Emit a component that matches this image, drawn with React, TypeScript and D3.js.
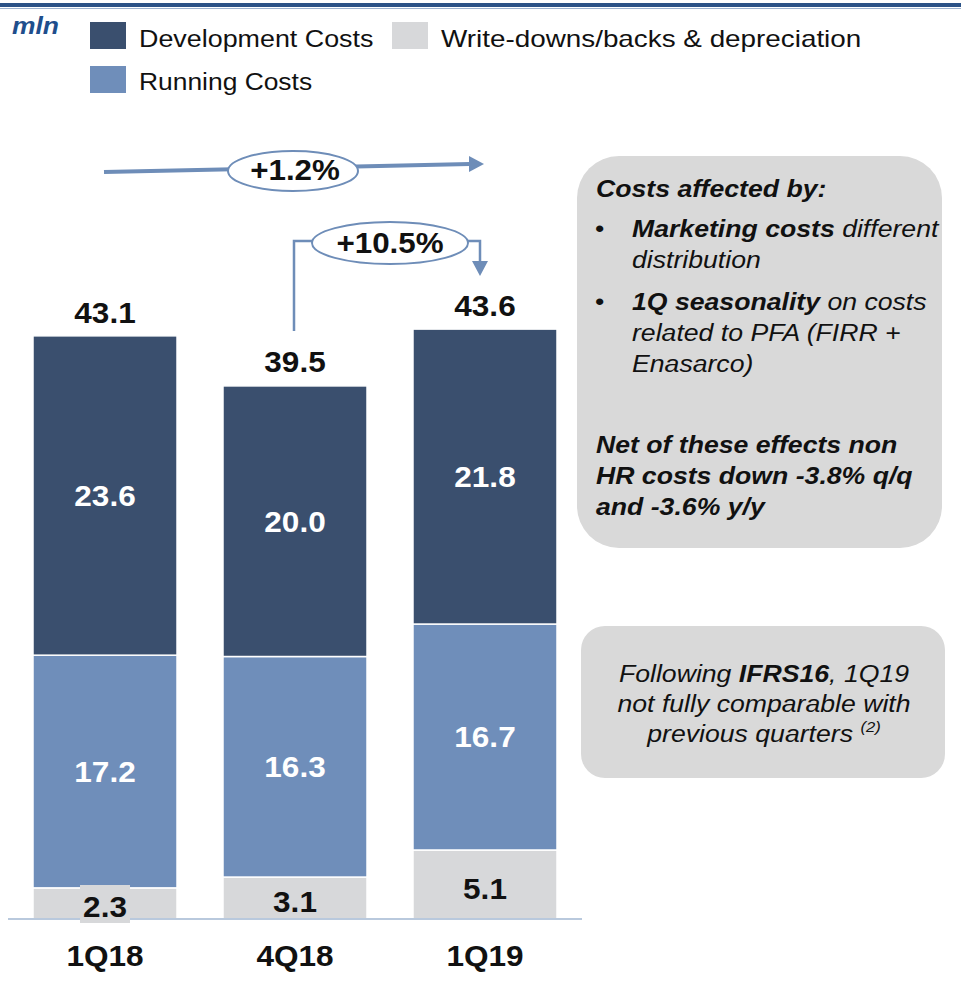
import React from "react";
import * as d3 from "d3";

const categories = ["1Q18", "4Q18", "1Q19"];
const writeDowns = [2.3, 3.1, 5.1];
const runningCosts = [17.2, 16.3, 16.7];
const developmentCosts = [23.6, 20.0, 21.8];
const totals = [43.1, 39.5, 43.6];
const seriesNames = ["Development Costs", "Write-downs/backs & depreciation", "Running Costs"];

const W = 961;
const H = 990;
const FONT = "'Liberation Sans', Arial, Helvetica, sans-serif";
const C_DEV = "#3A4F6E";
const C_RUN = "#6F8EBA";
const C_WD = "#D7D8DA";
const C_LINE = "#6E8DB8";

function T(props: any) {
  const { x, y, sx = 1.1, children, ...rest } = props;
  return (
    <text transform={`translate(${x},${y}) scale(${sx},1)`} x={0} y={0} {...rest}>
      {children}
    </text>
  );
}

export default function App() {
  const x = d3.scaleBand<string>().domain(categories).range([33, 557]).paddingInner(0.242).paddingOuter(0);
  const y = d3.scaleLinear().domain([0, 45]).range([919, 919 - 45 * 13.53]);

  const rows = categories.map((c, i) => ({ cat: c, wd: writeDowns[i], run: runningCosts[i], dev: developmentCosts[i] }));
  const stack = d3.stack<any>().keys(["wd", "run", "dev"]);
  const layers = stack(rows);
  const colors: Record<string, string> = { wd: C_WD, run: C_RUN, dev: C_DEV };
  const textColors: Record<string, string> = { wd: "#111", run: "#fff", dev: "#fff" };

  const bw = x.bandwidth();

  const arrowHead = (tipX: number, tipY: number, dir: "right" | "down") => {
    if (dir === "right") return `M${tipX},${tipY} L${tipX - 15},${tipY - 8} L${tipX - 15},${tipY + 8} Z`;
    return `M${tipX},${tipY} L${tipX - 8},${tipY - 15} L${tipX + 8},${tipY - 15} Z`;
  };

  const BX = 1.11;
  const NUM = 29.5;
  const NSX = 1.07;

  return (
    <svg width={W} height={H} style={{ position: "absolute", left: 0, top: 0, background: "#fff" }} fontFamily={FONT}>
      {/* top border */}
      <rect x={0} y={3} width={W} height={4} fill="#2B5287" />
      <line x1={0} x2={W} y1={8.5} y2={8.5} stroke="#9FB4D0" strokeWidth={1} />

      {/* unit */}
      <T x={12} y={34} sx={1.1} fontSize={24} fontWeight="bold" fontStyle="italic" fill="#1F4E8C">mln</T>

      {/* legend */}
      <rect x={90} y={22} width={36} height={27} fill={C_DEV} />
      <T x={139} y={47} sx={1.12} fontSize={24} fill="#111">{seriesNames[0]}</T>
      <rect x={392} y={22} width={36} height={27} fill={C_WD} />
      <T x={441} y={47} sx={1.16} fontSize={24} fill="#111">{seriesNames[1]}</T>
      <rect x={90} y={66} width={36} height={27} fill={C_RUN} />
      <T x={139} y={90} sx={1.1} fontSize={24} fill="#111">{seriesNames[2]}</T>

      {/* bars */}
      {layers.map((layer) => (
        <g key={layer.key}>
          {layer.map((d: any, i: number) => (
            <rect
              key={i}
              x={x(categories[i])}
              y={y(d[1])}
              width={bw}
              height={y(d[0]) - y(d[1])}
              fill={colors[layer.key]}
              stroke="#fff"
              strokeWidth={1.5}
            />
          ))}
        </g>
      ))}

      {/* axis line */}
      <line x1={8} x2={582} y1={919} y2={919} stroke="#B9C9DD" strokeWidth={2} />

      {/* gray label background for small first value */}
      <rect x={(x(categories[0]) as number) + bw / 2 - 25} y={885} width={50} height={38} fill={C_WD} />

      {/* segment labels */}
      {layers.map((layer) => (
        <g key={"l" + layer.key}>
          {layer.map((d: any, i: number) => {
            const cx = (x(categories[i]) as number) + bw / 2;
            let cy = (y(d[0]) + y(d[1])) / 2;
            if (layer.key === "wd") cy = Math.min(cy + 4, 907);
            return (
              <T key={i} x={cx} y={cy} sx={NSX} dy="0.35em" textAnchor="middle" fontSize={NUM} fontWeight="bold" fill={textColors[layer.key]}>
                {d.data[layer.key].toFixed(1)}
              </T>
            );
          })}
        </g>
      ))}

      {/* totals */}
      {totals.map((t, i) => (
        <T key={i} x={(x(categories[i]) as number) + bw / 2} y={y(t) - 13} sx={NSX} textAnchor="middle" fontSize={NUM} fontWeight="bold" fill="#111">
          {t.toFixed(1)}
        </T>
      ))}

      {/* categories */}
      {categories.map((c) => (
        <T key={c} x={(x(c) as number) + bw / 2} y={966} sx={NSX} textAnchor="middle" fontSize={NUM} fontWeight="bold" fill="#111">
          {c}
        </T>
      ))}

      {/* +1.2% arrow */}
      <line x1={104} y1={172} x2={470} y2={164} stroke={C_LINE} strokeWidth={4} />
      <path d={arrowHead(484, 164, "right")} fill={C_LINE} />
      <ellipse cx={293} cy={171} rx={65} ry={20} fill="#fff" stroke={C_LINE} strokeWidth={2} />
      <T x={295} y={170} sx={1.08} dy="0.36em" textAnchor="middle" fontSize={29} fontWeight="bold" fill="#111">+1.2%</T>

      {/* +10.5% bracket arrow */}
      <polyline points={`294,331 294,241 480,241 480,262`} fill="none" stroke={C_LINE} strokeWidth={2.5} />
      <path d={arrowHead(480, 276, "down")} fill={C_LINE} />
      <ellipse cx={390} cy={243} rx={78} ry={21} fill="#fff" stroke={C_LINE} strokeWidth={2} />
      <T x={390} y={243} sx={1.08} dy="0.36em" textAnchor="middle" fontSize={29} fontWeight="bold" fill="#111">+10.5%</T>

      {/* text box 1 */}
      <rect x={577} y={156} width={365} height={392} rx={42} ry={42} fill="#D9D9D9" />
      <g fontSize={24} fill="#111" fontStyle="italic">
        <T x={596} y={197} sx={BX} fontWeight="bold">Costs affected by:</T>
        <T x={595} y={237} sx={BX} fontStyle="normal">•</T>
        <T x={632} y={237} sx={BX}><tspan fontWeight="bold">Marketing costs</tspan> different</T>
        <T x={632} y={268} sx={BX}>distribution</T>
        <T x={595} y={310} sx={BX} fontStyle="normal">•</T>
        <T x={632} y={310} sx={BX}><tspan fontWeight="bold">1Q seasonality</tspan> on costs</T>
        <T x={632} y={341} sx={BX}>related to PFA (FIRR +</T>
        <T x={632} y={372} sx={BX}>Enasarco)</T>
        <T x={596} y={453} sx={BX} fontWeight="bold">Net of these effects non</T>
        <T x={596} y={484} sx={BX} fontWeight="bold">HR costs down -3.8% q/q</T>
        <T x={596} y={515} sx={BX} fontWeight="bold">and -3.6% y/y</T>
      </g>

      {/* text box 2 */}
      <rect x={581} y={626} width={364} height={152} rx={24} ry={24} fill="#D9D9D9" />
      <g fontSize={24} fill="#111" fontStyle="italic" textAnchor="middle">
        <T x={764} y={682} sx={BX}>Following <tspan fontWeight="bold">IFRS16</tspan>, 1Q19</T>
        <T x={764} y={712} sx={BX}>not fully comparable with</T>
        <T x={764} y={742} sx={BX}>previous quarters <tspan fontSize={15} dy={-10}>(2)</tspan></T>
      </g>
    </svg>
  );
}
